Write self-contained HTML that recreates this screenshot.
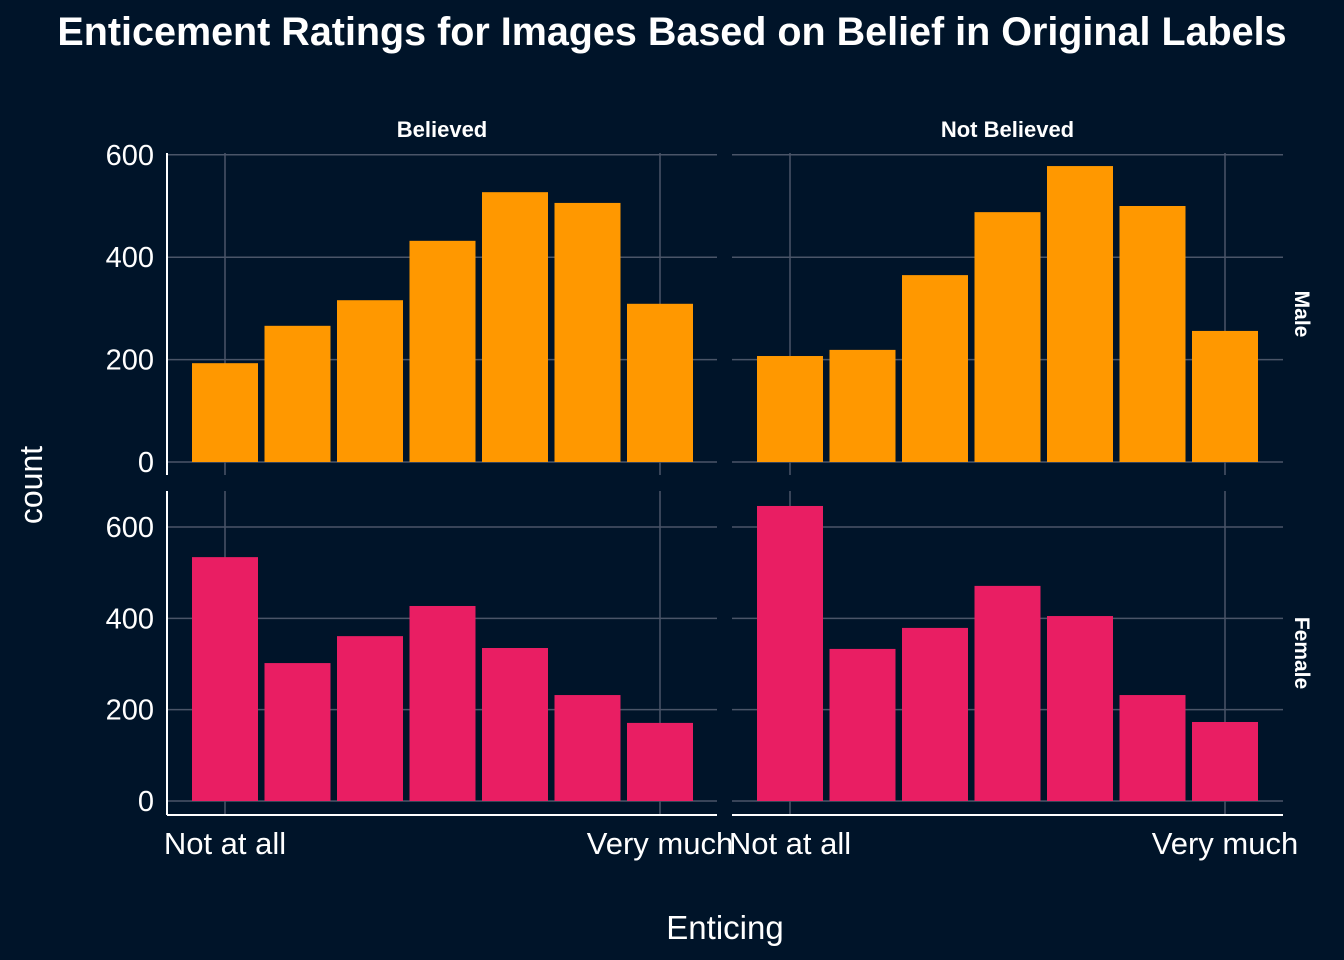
<!DOCTYPE html>
<html><head><meta charset="utf-8"><style>
html,body{margin:0;padding:0;background:#001429;}
svg{display:block;}
text{font-family:"Liberation Sans",sans-serif;fill:#fff;}
</style></head><body>
<svg id="c" width="1344" height="960" xmlns="http://www.w3.org/2000/svg">
<rect width="1344" height="960" fill="#001429"/>
<text x="672" y="45" text-anchor="middle" font-size="39.5" font-weight="bold">Enticement Ratings for Images Based on Belief in Original Labels</text>
<text x="725" y="939" text-anchor="middle" font-size="33">Enticing</text>
<text transform="translate(42,485) rotate(-90)" text-anchor="middle" font-size="32">count</text>
</svg>
<script>
const categories = [1,2,3,4,5,6,7];
const maleBelieved = [193,266,316,432,527,506,309];
const maleNotBelieved = [207,219,365,488,578,500,256];
const femaleBelieved = [534,302,361,427,335,232,171];
const femaleNotBelieved = [646,333,379,471,405,232,173];
const yTicks = [0,200,400,600];
const colLabels = ["Believed","Not Believed"];
const rowLabels = ["Male","Female"];
const xTickLabels = ["Not at all","Very much"];

const svg = document.getElementById('c');
const NS = "http://www.w3.org/2000/svg";
function mk(tag, attrs){const e=document.createElementNS(NS,tag);for(const k in attrs)e.setAttribute(k,attrs[k]);svg.appendChild(e);return e;}

const cols = [{x0:167,x1:717},{x0:732,x1:1283}];
const rows = [{top:153,bot:475,zero:462,scale:0.512,color:"#ff9800"},{top:491,bot:815,zero:801,scale:0.4567,color:"#e91e63"}];
const data = [[maleBelieved,maleNotBelieved],[femaleBelieved,femaleNotBelieved]];
const step = 72.5, bw = 66;
function xPos(ci,c){return cols[ci].x0+58+(c-1)*step;}
function yPos(ri,v){return rows[ri].zero - v*rows[ri].scale;}

rows.forEach((r,ri)=>{
  cols.forEach((col,ci)=>{
    yTicks.forEach(t=>{
      const l=mk('line',{x1:col.x0,x2:col.x1,y1:yPos(ri,t),y2:yPos(ri,t),stroke:"#4a5568","stroke-width":1.5});
      
      
    });
    [categories[0],categories[categories.length-1]].forEach(c=>{
      const l=mk('line',{x1:xPos(ci,c),x2:xPos(ci,c),y1:r.top,y2:r.bot,stroke:"#4a5568","stroke-width":1.5});
      
      
    });
    data[ri][ci].forEach((v,i)=>{
      const x=xPos(ci,categories[i]);
      const b=mk('rect',{x:x-bw/2,y:yPos(ri,v),width:bw,height:v*r.scale,fill:r.color});
      
      
    });
  });
  const ax=mk('line',{x1:167,x2:167,y1:r.top,y2:r.bot,stroke:"#fff","stroke-width":2});
  
  
  yTicks.forEach(t=>{
    const tx=mk('text',{x:154,y:yPos(ri,t)+10,"text-anchor":"end","font-size":29});
    tx.textContent=t;
    
    
  });
  const s=mk('text',{transform:`translate(1295,${(r.top+r.bot)/2}) rotate(90)`,"text-anchor":"middle","font-size":21,"font-weight":"bold"});
  s.textContent=rowLabels[ri];
  
  
});
cols.forEach((col,ci)=>{
  const s=mk('text',{x:(col.x0+col.x1)/2,y:137,"text-anchor":"middle","font-size":22,"font-weight":"bold"});
  s.textContent=colLabels[ci];
  
  
  const ax=mk('line',{x1:col.x0,x2:col.x1,y1:815,y2:815,stroke:"#fff","stroke-width":2});
  
  
  [categories[0],categories[categories.length-1]].forEach((c,j)=>{
    const t=mk('text',{x:xPos(ci,c),y:854,"text-anchor":"middle","font-size":31});
    t.textContent=xTickLabels[j];
    
    
  });
});
</script>
</body></html>
